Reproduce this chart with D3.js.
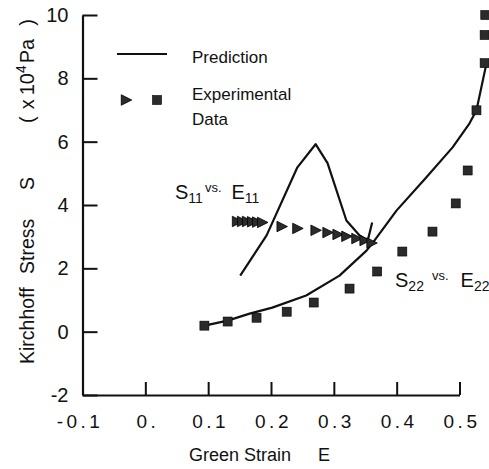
<!DOCTYPE html>
<html>
<head>
<meta charset="utf-8">
<script src="https://cdn.jsdelivr.net/npm/d3@7"></script>
<style>
  html, body { margin: 0; padding: 0; background: #fff; }
  svg { display: block; font-family: "Liberation Sans", Arial, Helvetica, sans-serif; }
</style>
</head>
<body>
<svg id="chart" width="489" height="469"></svg>
<script>
// ---- data ----
const xTicks = [-0.1, 0, 0.1, 0.2, 0.3, 0.4, 0.5];
const xTickLabels = ["-0.1", "0.", "0.1", "0.2", "0.3", "0.4", "0.5"];
const yTicks = [-2, 0, 2, 4, 6, 8, 10];
const yTickLabels = ["-2", "0", "2", "4", "6", "8", "10"];

// Experimental S11 vs E11 (triangles)
const s11ExpStrain = [0.146, 0.154, 0.162, 0.170, 0.178, 0.186, 0.217, 0.242, 0.271, 0.290, 0.306, 0.320, 0.336, 0.349, 0.360];
const s11ExpStress = [3.48, 3.48, 3.48, 3.47, 3.46, 3.45, 3.32, 3.26, 3.20, 3.13, 3.07, 3.01, 2.94, 2.88, 2.80];

// Experimental S22 vs E22 (squares)
const s22ExpStrain = [0.094, 0.131, 0.177, 0.225, 0.268, 0.325, 0.369, 0.409, 0.457, 0.494, 0.513, 0.527, 0.540, 0.540, 0.541];
const s22ExpStress = [0.19, 0.32, 0.44, 0.63, 0.92, 1.36, 1.90, 2.53, 3.16, 4.05, 5.09, 6.99, 8.48, 9.37, 10.0];

// Prediction curves
const s11PredStrain = [0.151, 0.193, 0.242, 0.271, 0.290, 0.320, 0.341, 0.354, 0.361];
const s11PredStress = [1.77, 3.04, 5.19, 5.92, 5.32, 3.51, 3.04, 2.88, 3.45];
const s22PredStrain = [0.094, 0.131, 0.166, 0.202, 0.256, 0.309, 0.352, 0.361, 0.400, 0.447, 0.489, 0.516, 0.527, 0.543];
const s22PredStress = [0.19, 0.35, 0.57, 0.76, 1.14, 1.77, 2.56, 2.78, 3.83, 4.87, 5.82, 6.58, 6.99, 8.48];

// ---- drawing ----
const svg = d3.select("#chart");
svg.append("rect").attr("width", 489).attr("height", 469).attr("fill", "#fff");

const x = d3.scaleLinear().domain([-0.1, 0.5]).range([82.5, 459.5]);
const y = d3.scaleLinear().domain([-2, 10]).range([395, 15]);

const ink = "#111";
const markFill = "#2b2b2b";
const ff = "'Liberation Sans', Arial, sans-serif";

// axes
const yAxis = d3.axisLeft(y).tickValues(yTicks)
  .tickFormat((d, i) => yTickLabels[i]).tickSize(-15).tickSizeOuter(0).tickPadding(14);
const gy = svg.append("g").attr("transform", `translate(${x(-0.1)},0)`).call(yAxis);

const xAxis = d3.axisBottom(x).tickValues(xTicks)
  .tickFormat((d, i) => xTickLabels[i]).tickSize(-13).tickSizeOuter(0).tickPadding(20);
const gx = svg.append("g").attr("transform", `translate(0,${y(-2)})`).call(xAxis);

[gx, gy].forEach(g => {
  g.select(".domain").attr("stroke", ink).attr("stroke-width", 2.2);
  g.selectAll(".tick line").attr("stroke", ink).attr("stroke-width", 2);
});
gy.selectAll(".tick text").attr("font-size", 20).attr("fill", ink).attr("font-family", ff);
gx.selectAll(".tick text").attr("font-size", 19).attr("fill", ink).attr("font-family", ff)
  .style("letter-spacing", "3.5px")
  .attr("dx", (d, i) => i === 0 ? "-3px" : "2px");

// prediction lines
const line = d3.line().x(d => x(d[0])).y(d => y(d[1]));
const s11Pred = s11PredStrain.map((e, i) => [e, s11PredStress[i]]);
const s22Pred = s22PredStrain.map((e, i) => [e, s22PredStress[i]]);
[s11Pred, s22Pred].forEach(pts => {
  svg.append("path").datum(pts).attr("d", line)
    .attr("fill", "none").attr("stroke", ink).attr("stroke-width", 2.2)
    .attr("stroke-linejoin", "round");
});

// markers
const tri = d3.symbol().type({ draw(ctx, size) {
  const h = Math.sqrt(size);
  ctx.moveTo(h * 0.55, 0); ctx.lineTo(-h * 0.45, -h * 0.5); ctx.lineTo(-h * 0.45, h * 0.5); ctx.closePath();
}}).size(110);

svg.append("g").selectAll("path")
  .data(s11ExpStrain.map((e, i) => [e, s11ExpStress[i]]))
  .join("path")
  .attr("d", tri)
  .attr("transform", d => `translate(${x(d[0])},${y(d[1])})`)
  .attr("fill", markFill).attr("stroke", "#000").attr("stroke-width", 0.8);

svg.append("g").selectAll("rect")
  .data(s22ExpStrain.map((e, i) => [e, s22ExpStress[i]]))
  .join("rect")
  .attr("x", d => x(d[0]) - 4.5).attr("y", d => y(d[1]) - 4.5)
  .attr("width", 9).attr("height", 9)
  .attr("fill", markFill).attr("stroke", "#000").attr("stroke-width", 0.6);

// legend
const lg = svg.append("g");
lg.append("line").attr("x1", 117).attr("x2", 167).attr("y1", 54).attr("y2", 54)
  .attr("stroke", ink).attr("stroke-width", 2);
lg.append("text").attr("x", 192).attr("y", 63).attr("font-size", 17).attr("fill", ink).text("Prediction");
lg.append("path").attr("d", tri).attr("transform", "translate(126,100)")
  .attr("fill", markFill).attr("stroke", "#000").attr("stroke-width", 0.8);
lg.append("rect").attr("x", 152.5).attr("y", 95.5).attr("width", 9).attr("height", 9)
  .attr("fill", markFill).attr("stroke", "#000").attr("stroke-width", 0.6);
lg.append("text").attr("x", 192).attr("y", 100).attr("font-size", 17).attr("fill", ink).text("Experimental");
lg.append("text").attr("x", 192).attr("y", 125).attr("font-size", 17).attr("fill", ink).text("Data");

// series labels
function seriesLabel(xp, yp, sub, gap1, gap2) {
  const t = svg.append("text").attr("x", xp).attr("y", yp).attr("fill", ink);
  t.append("tspan").attr("font-size", 20).text("S");
  t.append("tspan").attr("font-size", 14).attr("dy", 4).text(sub);
  t.append("tspan").attr("font-size", 13).attr("dy", -11).attr("dx", gap1).text("vs.");
  t.append("tspan").attr("font-size", 20).attr("dy", 7).attr("dx", gap2).text("E");
  t.append("tspan").attr("font-size", 14).attr("dy", 4).text(sub);
}
seriesLabel(175, 199, "11", 2, 10);
seriesLabel(395, 287, "22", 8, 12);

// axis titles
const xt = svg.append("text").attr("y", 461).attr("font-size", 18).attr("fill", ink);
xt.append("tspan").attr("x", 189).text("Green");
xt.append("tspan").attr("x", 244).text("Strain");
xt.append("tspan").attr("x", 318).text("E");

function vText(xp, yp, size, str) {
  return svg.append("text").attr("transform", `translate(${xp},${yp}) rotate(-90)`)
    .attr("font-size", size).attr("fill", ink).text(str);
}
vText(34, 364, 19.5, "Kirchhoff");
vText(34, 274, 19.5, "Stress");
vText(34, 190, 19.5, "S");
const unit = svg.append("text").attr("transform", "translate(34,123) rotate(-90)")
  .attr("font-size", 20).attr("fill", ink);
unit.append("tspan").text("(");
unit.append("tspan").attr("dx", 7).text("x");
unit.append("tspan").attr("dx", 4).text("10");
unit.append("tspan").attr("font-size", 14).attr("dy", -8).text("4");
unit.append("tspan").attr("dy", 8).attr("dx", 2).text("Pa");
unit.append("tspan").attr("dx", 13).text(")");
</script>
</body>
</html>
